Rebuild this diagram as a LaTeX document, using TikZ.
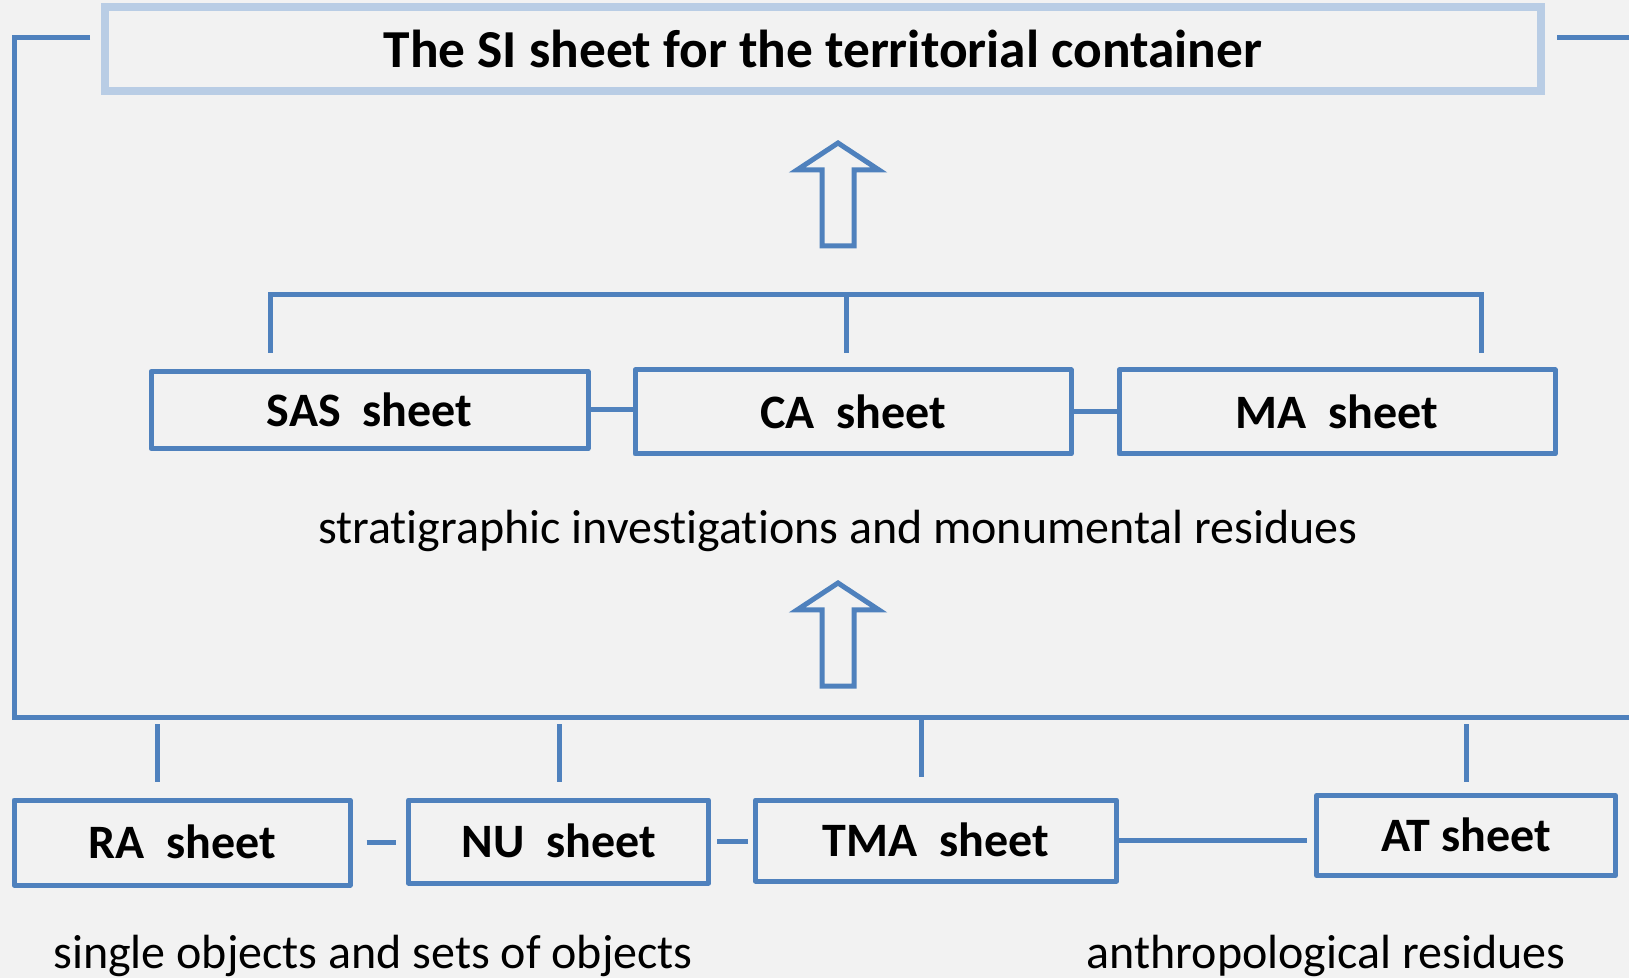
\documentclass[tikz,border=0pt]{standalone}
\usepackage{fontspec}
\setmainfont{Carlito}[Ligatures=NoCommon]
\definecolor{bggray}{HTML}{F2F2F2}
\definecolor{lineblue}{HTML}{4F81BD}
\definecolor{paleblue}{HTML}{B9CDE5}

\begin{document}
\begin{tikzpicture}[x=0.5pt, y=-0.5pt,
    sheet/.style={draw=lineblue, line width=2.5pt, line join=round, inner sep=0pt,
        font=\bfseries\fontsize{24}{28}\selectfont},
    link/.style={lineblue, line width=2.5pt},
    caption/.style={font=\fontsize{24}{28}\selectfont}]

    % page
    \fill[bggray] (0,0) rectangle (1629,978);
    \useasboundingbox (0,0) rectangle (1629,978);

    % title box
    \node[draw=paleblue, line width=4pt, minimum width=718pt, minimum height=41.75pt,
        font=\bfseries\fontsize{26.7}{31}\selectfont] (title) at (823,49)
        {The SI sheet for the territorial container};

    % sheets of the middle level
    \node[sheet, minimum width=218.5pt, minimum height=38.5pt] (sas) at (369.5,410) {SAS\ \ sheet};
    \node[sheet, minimum width=218pt, minimum height=42pt] (ca) at (853,412) {CA\ \ sheet};
    \node[sheet, minimum width=218pt, minimum height=42pt] (ma) at (1337,412) {MA\ \ sheet};

    % sheets of the lower level
    \node[sheet, minimum width=168pt, minimum height=42.5pt] (ra) at (182,842.5) {\raisebox{1pt}{RA\ \ sheet}};
    \node[sheet, minimum width=150pt, minimum height=41.5pt] (nu) at (558.5,841.5) {\raisebox{1pt}{NU\ \ sheet}};
    \node[sheet, minimum width=180.5pt, minimum height=40.5pt] (tma) at (936,840.5) {\raisebox{1pt}{TMA\ \ sheet}};
    \node[sheet, minimum width=149.5pt, minimum height=40pt] (ant) at (1466,835.5) {\raisebox{1pt}{AT sheet}};

    % captions
    \node[caption] (strat) at (838,531) {stratigraphic investigations and monumental residues};
    \node[caption] (single) at (373,956) {single objects and sets of objects};
    \node[caption] (anthro) at (1326,956) {anthropological residues};

    % links between the sheets
    \draw[link] (sas.east) -- (sas.east -| ca.west);
    \draw[link] (ca.east) -- (ma.west);
    \draw[link, shorten <=7pt, shorten >=5pt] (ra.east) -- (ra.east -| nu.west);
    \draw[link, shorten <=3pt, shorten >=2.5pt] (nu.east) -- (nu.east -| tma.west);
    \draw[link, shorten >=3.5pt] (tma.east) -- (tma.east -| ant.west);

    % bracket over the middle level
    \coordinate (mleft) at (270,353);
    \coordinate (mright) at (1481,353);
    \coordinate (mtop) at (846,295);
    \draw[link] (mleft) -- (mleft |- mtop) -- (mright |- mtop) -- (mright);
    \draw[link] (mtop) -- (846,353);

    % frame round the middle level
    \coordinate (fstart) at (90,37.5);
    \coordinate (fcorner) at (14,717);
    \coordinate (fend) at (1629,717);
    \draw[link] (fstart) -- (fstart -| fcorner) -- (fcorner) -- (fend);
    \draw[link] (1557,37.5) -- (1629,37.5);

    % stubs to the lower level
    \foreach \x in {157, 559, 1466} {
        \draw[link] (\x,724) -- (\x,782);
    }
    \draw[link] (921,720) -- (921,777);

    % block arrows
    \foreach \dy in {0, 440} {
        \draw[link, line join=miter] (838,143+\dy) -- (879,170+\dy) -- (854,170+\dy) -- (854,246+\dy)
            -- (822,246+\dy) -- (822,170+\dy) -- (797,170+\dy) -- cycle;
    }
\end{tikzpicture}
\end{document}
